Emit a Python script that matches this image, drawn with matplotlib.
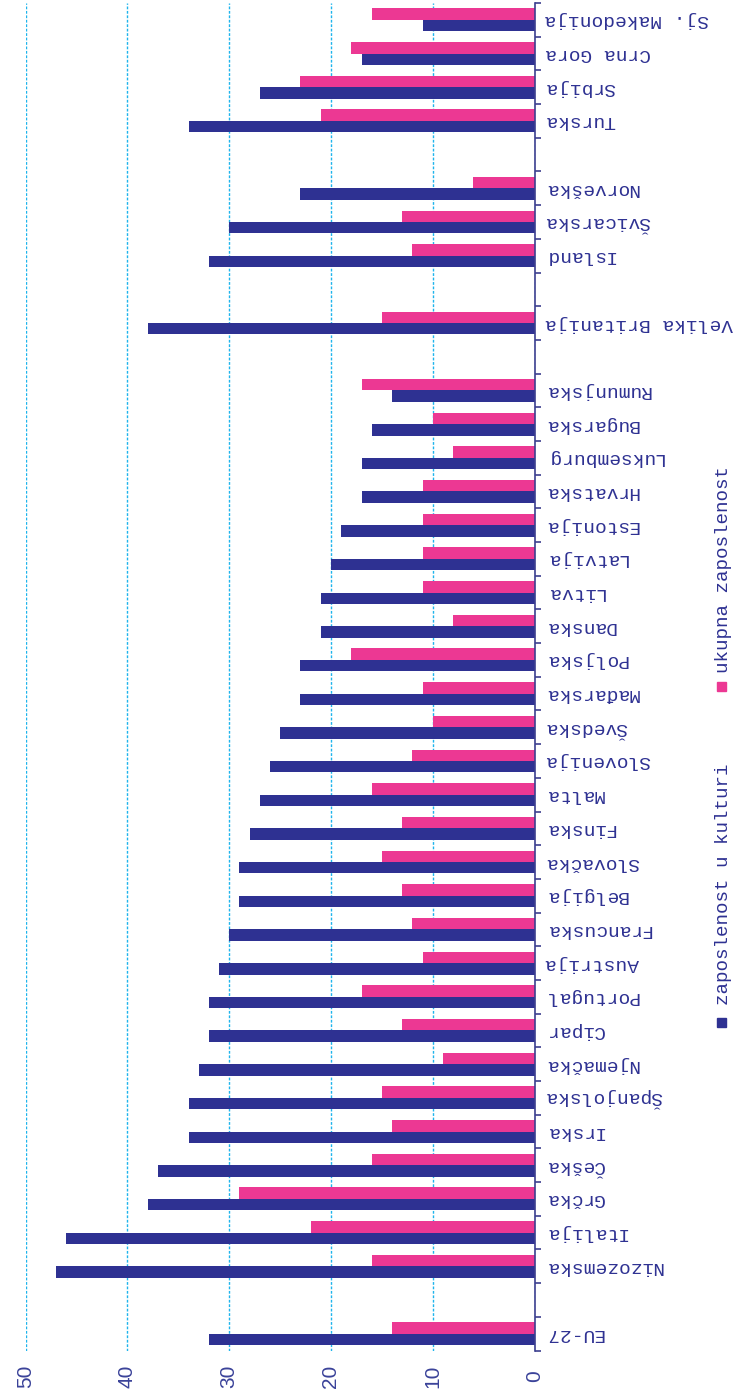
import numpy as np
import matplotlib
matplotlib.use('Agg')
import matplotlib.pyplot as plt
from matplotlib.patches import Rectangle

nan = np.nan

# categories bottom-to-top ('' = empty slot between groups)
categories = ['EU-27', '', 'Nizozemska', 'Italija', 'Grčka', 'Češka', 'Irska',
              'Španjolska', 'Njemačka', 'Cipar', 'Portugal', 'Austrija',
              'Francuska', 'Belgija', 'Slovačka', 'Finska', 'Malta', 'Slovenija',
              'Švedska', 'Mađarska', 'Poljska', 'Danska', 'Litva', 'Latvija',
              'Estonija', 'Hrvatska', 'Luksemburg', 'Bugarska', 'Rumunjska', '',
              'Velika Britanija', '', 'Island', 'Švicarska', 'Norveška', '',
              'Turska', 'Srbija', 'Crna Gora', 'Sj. Makedonija']

culture = [32, nan, 47, 46, 38, 37, 34, 34, 33, 32, 32, 31, 30, 29, 29, 28, 27,
           26, 25, 23, 23, 21, 21, 20, 19, 17, 17, 16, 14, nan, 38, nan, 32, 30,
           23, nan, 34, 27, 17, 11]

total = [14, nan, 16, 22, 29, 16, 14, 15, 9, 13, 17, 11, 12, 13, 15, 13, 16, 12,
         10, 11, 18, 8, 11, 11, 11, 11, 8, 10, 17, nan, 15, nan, 12, 13, 6, nan,
         21, 23, 18, 16]

value_ticks = [0, 10, 20, 30, 40, 50]
series_names = ['zaposlenost u kulturi', 'ukupna zaposlenost']

BLUE = '#2E3192'
PINK = '#EC3893'
GRID = '#1EB4EC'
TXT = '#2E3192'

W, H = 734, 1397
fig = plt.figure(figsize=(W / 100, H / 100), dpi=100)

def fx(px):
    return px / W

def fy(py):
    return 1 - py / H

ax_left, ax_right, ax_top, ax_bot = 25.7, 534.5, 3, 1350.5
ax = fig.add_axes([fx(ax_left), fy(ax_bot), (ax_right - ax_left) / W, (ax_bot - ax_top) / H])

n = len(categories)
pos = np.arange(n)
bh = 0.34
ax.barh(pos - bh / 2, culture, height=bh, color=BLUE, zorder=3)
ax.barh(pos + bh / 2, total, height=bh, color=PINK, zorder=3)

ax.set_xlim(50, 0)
ax.set_ylim(-0.5, n - 0.5)

for s in ['left', 'top', 'bottom']:
    ax.spines[s].set_visible(False)
ax.spines['right'].set_color('#3D3F8F')
ax.spines['right'].set_linewidth(1.2)
ax.spines['right'].set_zorder(4)

ax.set_xticks(value_ticks)
ax.set_xticklabels([str(v) for v in value_ticks])
ax.tick_params(axis='x', length=0, pad=18.5, labelsize=15, labelcolor='#3A4299')
for t in ax.get_xticklabels():
    t.set_rotation(90)
    t.set_va('center')
    t.set_ha('center')
    t.set_fontfamily('Liberation Sans')
ax.xaxis.grid(True, color=GRID, linestyle=(0, (2.0, 1.2)), linewidth=1.0, zorder=0)
ax.yaxis.grid(False)

ax.yaxis.tick_right()
ax.set_yticks(pos)
ax.set_yticklabels(categories)
ax.set_yticks(np.arange(-0.5, n, 1), minor=True)
ax.tick_params(axis='y', which='major', length=0, pad=7.5, labelsize=14,
               labelcolor=TXT)
ax.tick_params(axis='y', which='minor', length=4, width=1.2, color='#3D3F8F',
               direction='out', right=True, left=False)
for t in ax.get_yticklabels():
    t.set_rotation(180)
    t.set_ha('left')
    t.set_va('center')
    t.set_fontfamily('Liberation Mono')

# legend (rotated)
leg = [(series_names[0], BLUE, 1027, 1005), (series_names[1], PINK, 691, 673)]
for name, col, sq_y, txt_y in leg:
    fig.patches.append(Rectangle((fx(717), fy(sq_y)), 9 / W, 9 / H,
                                 transform=fig.transFigure, color=col))
    fig.text(fx(723), fy(txt_y), name, rotation=90, ha='center', va='bottom',
             fontsize=13.8, family='Liberation Mono', color=TXT)

fig.savefig('out.png', dpi=100)
